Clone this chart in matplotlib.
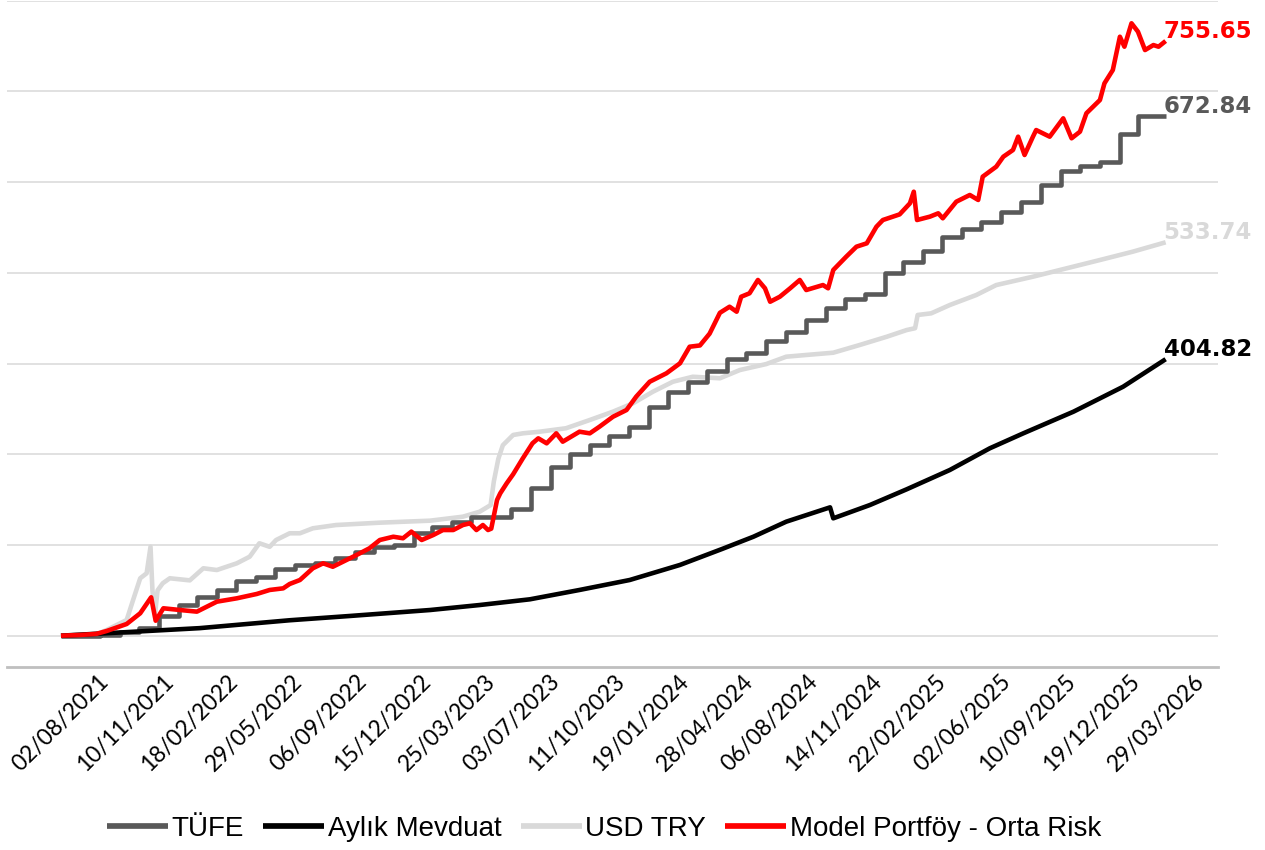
import matplotlib
matplotlib.use("Agg")
import matplotlib.pyplot as plt
import matplotlib.dates as mdates
from matplotlib import font_manager
import pandas as pd

# ---------------- data ----------------
tick_labels = ["02/08/2021", "10/11/2021", "18/02/2022", "29/05/2022", "06/09/2022",
               "15/12/2022", "25/03/2023", "03/07/2023", "11/10/2023", "19/01/2024",
               "28/04/2024", "06/08/2024", "14/11/2024", "22/02/2025", "02/06/2025",
               "10/09/2025", "19/12/2025", "29/03/2026"]

series_names = ["TÜFE", "Aylık Mevduat", "USD TRY", "Model Portföy - Orta Risk"]
series_colors = ["#595959", "#000000", "#d9d9d9", "#ff0000"]
end_labels = ["672.84", "404.82", "533.74", "755.65"]

tufe_dates = ["2021-08-02", "2021-09-01", "2021-10-01", "2021-11-01", "2021-12-01",
              "2022-01-01", "2022-02-01", "2022-03-01", "2022-04-01", "2022-05-01",
              "2022-06-01", "2022-07-01", "2022-08-01", "2022-09-01", "2022-10-01",
              "2022-11-01", "2022-12-01", "2023-01-01", "2023-02-01", "2023-03-01",
              "2023-04-01", "2023-05-01", "2023-06-01", "2023-07-01", "2023-08-01",
              "2023-09-01", "2023-10-01", "2023-11-01", "2023-12-01", "2024-01-01",
              "2024-02-01", "2024-03-01", "2024-04-01", "2024-05-01", "2024-06-01",
              "2024-07-01", "2024-08-01", "2024-09-01", "2024-10-01", "2024-11-01",
              "2024-12-01", "2025-01-01", "2025-02-01", "2025-03-01", "2025-04-01",
              "2025-05-01", "2025-06-01", "2025-07-01", "2025-08-01", "2025-09-01",
              "2025-10-01", "2025-11-01", "2025-12-01", "2026-01-01", "2026-02-01",
              "2026-03-01", "2026-04-13"]
tufe_values = [100.0, 100.0, 101.2, 103.7, 108.5,
               121.9, 134.0, 142.5, 150.0, 160.5,
               164.5, 173.0, 177.6, 180.2, 185.7,
               192.3, 197.8, 200.2, 213.5, 220.2,
               225.2, 230.6, 230.7, 239.8, 262.5,
               286.4, 300.0, 310.3, 320.4, 329.8,
               352.5, 368.5, 379.5, 391.6, 404.8,
               411.4, 424.7, 435.2, 448.1, 461.0,
               471.3, 476.2, 500.1, 511.5, 524.1,
               539.8, 548.1, 555.6, 567.0, 578.6,
               597.3, 612.5, 617.8, 622.0, 653.5,
               672.84, 672.84]

mevduat_dates = ["2021-08-02", "2021-11-01", "2022-03-05", "2022-07-23", "2022-10-24",
                 "2023-02-26", "2023-05-14", "2023-07-31", "2023-10-16", "2024-01-02",
                 "2024-03-20", "2024-05-24", "2024-07-12", "2024-09-01", "2024-11-08",
                 "2024-11-13", "2025-01-09", "2025-03-07", "2025-05-13", "2025-07-14",
                 "2025-09-04", "2025-11-21", "2026-02-06", "2026-04-13"]
mevduat_values = [100.0, 103.5, 108.3, 117.0, 121.7,
                  128.3, 133.8, 140.1, 150.4, 161.4,
                  178.0, 195.5, 209.1, 225.7, 241.5,
                  229.4, 244.1, 261.4, 282.7, 306.6,
                  323.1, 347.0, 374.5, 404.82]

usd_dates = ["2021-08-02", "2021-09-26", "2021-10-12", "2021-11-12", "2021-11-22",
             "2021-12-03", "2021-12-13", "2021-12-19", "2021-12-22", "2021-12-26",
             "2021-12-30", "2022-01-07", "2022-01-18", "2022-02-18", "2022-03-11",
             "2022-04-01", "2022-05-02", "2022-05-22", "2022-06-06", "2022-06-22",
             "2022-07-02", "2022-07-23", "2022-08-08", "2022-08-28", "2022-10-03",
             "2022-12-10", "2023-02-26", "2023-04-18", "2023-05-14", "2023-05-31",
             "2023-06-05", "2023-06-12", "2023-06-19", "2023-07-05", "2023-07-20",
             "2023-08-15", "2023-09-25", "2023-11-01", "2023-12-07", "2024-01-07",
             "2024-02-07", "2024-03-09", "2024-04-09", "2024-05-21", "2024-06-21",
             "2024-08-01", "2024-09-01", "2024-10-02", "2024-11-13", "2024-12-24",
             "2025-02-04", "2025-03-07", "2025-03-20", "2025-03-24", "2025-04-14",
             "2025-05-13", "2025-06-23", "2025-07-24", "2025-09-19", "2025-11-10",
             "2026-01-01", "2026-02-21", "2026-04-13"]
usd_values = [100.0, 101.5, 106.3, 117.3, 139.4,
              163.3, 168.8, 198.0, 150.0, 124.0,
              150.0, 157.8, 163.3, 161.0, 174.3,
              172.4, 179.8, 187.1, 201.9, 198.0,
              205.5, 212.9, 212.9, 218.4, 222.0,
              224.6, 226.8, 231.2, 236.7, 244.0,
              270.0, 295.0, 310.0, 321.3, 323.1,
              324.9, 328.7, 337.8, 347.0, 356.2,
              369.0, 380.0, 385.5, 383.8, 392.9,
              399.5, 407.6, 409.5, 412.0, 420.5,
              429.6, 437.0, 439.0, 453.6, 455.4,
              464.6, 475.6, 486.6, 495.8, 505.0,
              514.2, 523.4, 533.74]

model_dates = ["2021-08-02", "2021-09-01", "2021-09-26", "2021-10-12", "2021-11-12",
               "2021-12-03", "2021-12-20", "2021-12-27", "2022-01-08", "2022-02-03",
               "2022-03-01", "2022-04-01", "2022-05-02", "2022-06-02", "2022-06-22",
               "2022-07-13", "2022-07-23", "2022-08-08", "2022-08-28", "2022-09-13",
               "2022-09-28", "2022-10-14", "2022-11-04", "2022-11-24", "2022-12-10",
               "2022-12-31", "2023-01-15", "2023-01-28", "2023-02-13", "2023-03-03",
               "2023-03-18", "2023-04-03", "2023-04-18", "2023-04-29", "2023-05-09",
               "2023-05-19", "2023-05-27", "2023-06-01", "2023-06-10", "2023-06-15",
               "2023-06-25", "2023-07-05", "2023-07-20", "2023-08-04", "2023-08-13",
               "2023-08-26", "2023-09-10", "2023-09-20", "2023-10-16", "2023-11-01",
               "2023-11-16", "2023-12-07", "2023-12-28", "2024-01-12", "2024-02-02",
               "2024-02-28", "2024-03-20", "2024-04-04", "2024-04-20", "2024-05-05",
               "2024-05-21", "2024-06-05", "2024-06-16", "2024-06-23", "2024-07-06",
               "2024-07-19", "2024-07-30", "2024-08-07", "2024-08-22", "2024-09-07",
               "2024-09-22", "2024-10-02", "2024-10-28", "2024-11-05", "2024-11-13",
               "2024-12-03", "2024-12-19", "2025-01-04", "2025-01-19", "2025-01-29",
               "2025-02-24", "2025-03-12", "2025-03-18", "2025-03-23", "2025-04-12",
               "2025-04-25", "2025-05-02", "2025-05-23", "2025-06-13", "2025-06-26",
               "2025-07-03", "2025-07-24", "2025-08-04", "2025-08-19", "2025-08-27",
               "2025-09-06", "2025-09-19", "2025-09-24", "2025-10-15", "2025-11-05",
               "2025-11-18", "2025-12-01", "2025-12-11", "2026-01-01", "2026-01-08",
               "2026-01-21", "2026-02-01", "2026-02-08", "2026-02-19", "2026-03-01",
               "2026-03-12", "2026-03-25", "2026-04-02", "2026-04-13"]
model_values = [100.0, 100.8, 102.0, 105.2, 112.9,
                124.7, 142.3, 116.5, 130.2, 128.3,
                126.5, 137.5, 141.2, 146.0, 150.4,
                152.2, 157.0, 161.4, 174.3, 179.8,
                176.0, 181.6, 189.0, 196.4, 205.5,
                209.1, 207.4, 214.7, 205.5, 211.0,
                216.5, 216.5, 222.0, 223.9, 216.5,
                222.0, 216.5, 218.0, 249.6, 257.0,
                268.0, 278.0, 295.5, 312.1, 317.6,
                312.1, 323.1, 313.9, 324.9, 323.1,
                330.4, 341.4, 348.8, 363.5, 380.0,
                389.3, 400.3, 418.6, 420.0, 433.0,
                456.0, 462.7, 457.2, 473.7, 477.5,
                492.2, 483.0, 468.2, 473.7, 483.0,
                492.2, 481.1, 486.6, 483.0, 503.2,
                517.8, 528.9, 532.6, 550.9, 558.3,
                564.5, 576.7, 589.5, 558.3, 562.0,
                565.7, 560.2, 578.5, 585.9, 580.4,
                606.1, 617.1, 628.1, 635.5, 650.2,
                630.0, 650.2, 657.5, 650.2, 670.4,
                648.4, 655.7, 676.0, 690.6, 709.0,
                723.7, 760.4, 749.4, 775.2, 766.0,
                745.7, 751.2, 749.4, 755.65]

y_gridlines = [100, 200, 300, 400, 500, 600, 700, 800]

# ---------------- fonts ----------------
installed = {f.name for f in font_manager.fontManager.ttflist}
tick_font = next((f for f in ["Lato", "Open Sans", "Liberation Sans"] if f in installed), "DejaVu Sans")
legend_font = next((f for f in ["Liberation Sans Narrow", "Liberation Sans", "Roboto"] if f in installed), "DejaVu Sans")
legend_size = 23 if legend_font == "Liberation Sans Narrow" else 20

# ---------------- figure ----------------
fig = plt.figure(figsize=(12.65, 8.5), dpi=100)
ax = fig.add_axes([7 / 1265, 1 - 666.7 / 850, (1218 - 7) / 1265, (666.7 - 0.8) / 850])

series = [
    (pd.to_datetime(tufe_dates), tufe_values, "steps-post", 3),
    (pd.to_datetime(mevduat_dates), mevduat_values, "default", 3),
    (pd.to_datetime(usd_dates), usd_values, "default", 1),
    (pd.to_datetime(model_dates), model_values, "default", 4),
]

handles = []
for (dts, vals, ds, z), name, col, lab in zip(series, series_names, series_colors, end_labels):
    ln, = ax.plot(dts, vals, color=col, lw=3.3, drawstyle=ds, zorder=z, label=name,
                  solid_joinstyle="round", solid_capstyle="butt")
    handles.append(ln)
    ax.annotate(lab, xy=(dts[-1], vals[-1]), xytext=(-2, 3), textcoords="offset pixels",
                ha="left", va="baseline", fontsize=16.5, fontweight="bold",
                color=col, family="DejaVu Sans", annotation_clip=False, zorder=6)

start = mdates.date2num(pd.Timestamp("2021-08-02"))
ax.set_xlim(start - 83.8, start + 1796.3)
ax.set_ylim(65.8, 800)

ax.set_yticks(y_gridlines)
ax.yaxis.grid(True, color="#d9d9d9", lw=1.1)
ax.set_axisbelow(True)
ax.tick_params(axis="y", left=False, labelleft=False)

tick_pos = pd.to_datetime(tick_labels, format="%d/%m/%Y")
ax.set_xticks(tick_pos)
ax.set_xticklabels(tick_labels, rotation=45, ha="center", va="top",
                   fontsize=16.5, family=tick_font)
ax.tick_params(axis="x", length=0, pad=3)

for s in ["left", "right", "top"]:
    ax.spines[s].set_visible(False)
ax.spines["bottom"].set_color("#bfbfbf")
ax.spines["bottom"].set_linewidth(2.0)

leg = fig.legend(handles=handles, loc="center", bbox_to_anchor=(0.4775, 1 - 829 / 850),
                 ncol=4, frameon=False, handlelength=2.2, handletextpad=0.12,
                 columnspacing=0.7,
                 prop={"family": legend_font, "size": legend_size})
for l in leg.get_lines():
    l.set_linewidth(4.1)

fig.savefig("out.png", dpi=100)
